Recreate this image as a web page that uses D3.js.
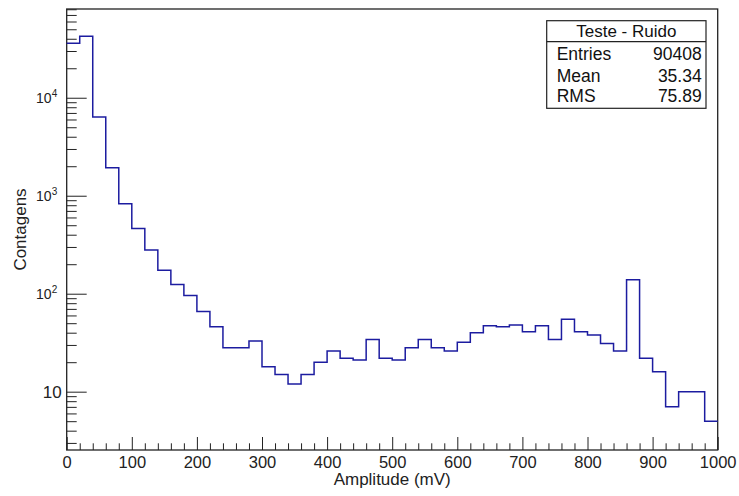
<!DOCTYPE html>
<html>
<head>
<meta charset="utf-8">
<title>Teste - Ruido</title>
<script src="https://d3js.org/d3.v7.min.js"></script>
<style>
  body { margin: 0; background: #fff; }
  svg { display: block; font-family: 'Liberation Sans', Arial, sans-serif; }
  .axis path, .axis line { stroke: #222; }
  .axis text { fill: #222; }
</style>
</head>
<body>
<div id="chart"></div>
<script>
// histogram data (bins of 20 mV from 0 to 1000)
var binStart = 0;
var binWidth = 20;
var counts = [35900, 42400, 6350, 1930, 828, 463, 279, 174, 124, 96,
              66, 46, 28, 28, 33, 18, 15, 12, 15, 20,
              26, 22, 21, 34, 22, 21, 28, 34, 28, 26,
              32, 40, 47, 46, 48, 41, 47, 34, 55, 41,
              38, 31, 26, 139, 22, 16, 7, 10, 10, 5];

var xTicksMajor = [0, 100, 200, 300, 400, 500, 600, 700, 800, 900, 1000];
var yTicksMajor = [10, 100, 1000, 10000];

var statsTitle = 'Teste - Ruido';
var statsLabels = ['Entries', 'Mean', 'RMS'];
var statsValues = ['90408', '35.34', '75.89'];

var xTitle = 'Amplitude (mV)';
var yTitle = 'Contagens';

var width = 739, height = 496;
var pLeft = 66.7, pRight = 717.7, pTop = 9, pBottom = 450;

var svg = d3.select('#chart').append('svg')
    .attr('width', width)
    .attr('height', height)
    .style('background-color', '#fff');

var x = d3.scaleLinear().domain([0, 1000]).range([pLeft, pRight]);
var y = d3.scaleLog().domain([2.54, 80500]).range([pBottom, pTop]);

// minor ticks
var xMinor = d3.range(0, 1001, 20).filter(function(v) { return v % 100 !== 0; });
var yMinor = [];
[1, 10, 100, 1000, 10000].forEach(function(dec) {
  for (var k = 2; k <= 9; k++) {
    var v = k * dec;
    if (v >= y.domain()[0] && v <= y.domain()[1]) yMinor.push(v);
  }
});

// x axis
svg.append('g')
    .attr('class', 'axis')
    .attr('transform', 'translate(0,' + pBottom + ')')
    .call(d3.axisBottom(x).tickValues(xMinor).tickSizeInner(-6.7).tickSizeOuter(0).tickFormat(''))
    .call(function(g) { g.select('.domain').remove(); });

svg.append('g')
    .attr('class', 'axis')
    .attr('transform', 'translate(0,' + pBottom + ')')
    .call(d3.axisBottom(x).tickValues(xTicksMajor).tickSizeInner(-13).tickSizeOuter(0)
          .tickPadding(6).tickFormat(d3.format('d')))
    .call(function(g) {
      g.select('.domain').remove();
      g.selectAll('text').style('font-size', '16.5px');
    });

// y axis
svg.append('g')
    .attr('class', 'axis')
    .attr('transform', 'translate(' + pLeft + ',0)')
    .call(d3.axisLeft(y).tickValues(yMinor).tickSizeInner(-10).tickSizeOuter(0).tickFormat(''))
    .call(function(g) { g.select('.domain').remove(); });

var sup = ['', '', '2', '3', '4'];
svg.append('g')
    .attr('class', 'axis')
    .attr('transform', 'translate(' + pLeft + ',0)')
    .call(d3.axisLeft(y).tickValues(yTicksMajor).tickSizeInner(-20).tickSizeOuter(0).tickPadding(5))
    .call(function(g) {
      g.select('.domain').remove();
      g.selectAll('text').each(function(d) {
        var t = d3.select(this);
        var e = Math.round(Math.log10(d));
        t.text(null);
        if (e === 1) {
          t.style('font-size', '17px').text('10');
        } else {
          t.attr('x', -9.5).style('font-size', '14px');
          t.append('tspan').text('10');
          t.append('tspan').attr('dy', '-0.55em').style('font-size', '10px').text(sup[e]);
        }
      });
    });

// frame
svg.append('rect')
    .attr('x', pLeft).attr('y', pTop)
    .attr('width', pRight - pLeft).attr('height', pBottom - pTop)
    .attr('fill', 'none')
    .attr('stroke', '#222')
    .attr('stroke-width', 1.3);

// histogram outline
var pts = counts.map(function(c, i) { return [binStart + i * binWidth, c]; });
pts.push([binStart + counts.length * binWidth, counts[counts.length - 1]]);

var line = d3.line()
    .x(function(d) { return x(d[0]); })
    .y(function(d) { return y(d[1]); })
    .curve(d3.curveStepAfter);

svg.append('path')
    .datum(pts)
    .attr('d', line)
    .attr('fill', 'none')
    .attr('stroke', '#1c1ca0')
    .attr('stroke-width', 1.5);

// axis titles
svg.append('text')
    .attr('x', (pLeft + pRight) / 2)
    .attr('y', 485)
    .attr('text-anchor', 'middle')
    .style('font-size', '17px')
    .style('fill', '#222')
    .text(xTitle);

svg.append('text')
    .attr('transform', 'translate(26,' + ((pTop + pBottom) / 2) + ') rotate(-90)')
    .attr('text-anchor', 'middle')
    .style('font-size', '17px')
    .style('fill', '#222')
    .text(yTitle);

// stats box
var bx = 546.7, by = 20.7, bw = 159.3, bh = 87.6;
svg.append('rect')
    .attr('x', bx).attr('y', by)
    .attr('width', bw).attr('height', bh)
    .attr('fill', '#fff')
    .attr('stroke', '#222')
    .attr('stroke-width', 1.2);

svg.append('line')
    .attr('x1', bx).attr('x2', bx + bw)
    .attr('y1', 41.7).attr('y2', 41.7)
    .attr('stroke', '#222')
    .attr('stroke-width', 1.2);

svg.append('text')
    .attr('x', bx + bw / 2)
    .attr('y', 37.3)
    .attr('text-anchor', 'middle')
    .style('font-size', '17px')
    .style('fill', '#111')
    .text(statsTitle);

var rowY = [60, 81.7, 102.3];
statsLabels.forEach(function(lab, i) {
  svg.append('text')
      .attr('x', 556.7).attr('y', rowY[i])
      .style('font-size', '17.5px')
      .style('fill', '#111')
      .text(lab);
  svg.append('text')
      .attr('x', 701.7).attr('y', rowY[i])
      .attr('text-anchor', 'end')
      .style('font-size', '17.5px')
      .style('fill', '#111')
      .text(statsValues[i]);
});
</script>
</body>
</html>
